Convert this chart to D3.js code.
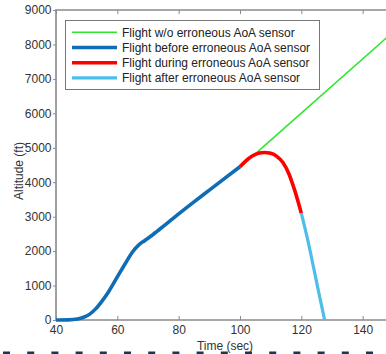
<!DOCTYPE html>
<html>
<head>
<meta charset="utf-8">
<script src="https://cdn.jsdelivr.net/npm/d3@7"></script>
<style>
  body { margin: 0; background: #fff; }
  svg { display: block; font-family: "Liberation Sans", Arial, sans-serif; }
</style>
</head>
<body>
<div id="container"></div>
<script>
/* DATA */
const beforeTime = [40, 44, 47, 49, 51, 53, 55, 57, 60, 63, 65, 67, 69, 71, 73, 76, 80, 85, 90, 95, 100];
const beforeAlt  = [0, 5, 30, 80, 170, 330, 550, 800, 1250, 1700, 1980, 2180, 2310, 2440, 2580, 2790, 3080, 3430, 3770, 4110, 4450];

const normalTime = [100, 150];
const normalAlt  = [4430, 8370];

const duringTime = [100, 102, 104, 106, 108, 110, 112, 114, 116, 117, 118, 119, 120];
const duringAlt  = [4450, 4630, 4760, 4840, 4865, 4840, 4750, 4570, 4230, 3990, 3720, 3420, 3100];

const afterTime = [120, 122, 124, 126, 127.6];
const afterAlt  = [3100, 2360, 1520, 660, 0];

const legendLabels = [
  "Flight w/o erroneous AoA sensor",
  "Flight before erroneous AoA sensor",
  "Flight during erroneous AoA sensor",
  "Flight after erroneous AoA sensor"
];

/* CONSTANTS */
const width = 386, height = 354;
const margin = {top: 10, left: 56, bottom: 34};
const axisColor = "#8a8a8a";

const svg = d3.select("#container").append("svg")
  .attr("width", width)
  .attr("height", height);

/* SCALES */
const xScale = d3.scaleLinear()
  .domain([40, 150])
  .range([margin.left, margin.left + 110 * 3.0667]);

const yScale = d3.scaleLinear()
  .domain([0, 9000])
  .range([height - margin.bottom, margin.top]);

/* AXES */
const xAxis = svg.append("g")
  .attr("transform", `translate(0,${yScale(0)})`)
  .call(d3.axisBottom(xScale).tickValues([40, 60, 80, 100, 120, 140]).tickSize(-4).tickPadding(5.5))
xAxis.select(".domain").remove();

const topAxis = svg.append("g")
  .attr("transform", `translate(0,${yScale(9000)})`)
  .call(d3.axisTop(xScale).tickValues([40, 60, 80, 100, 120, 140]).tickSize(-4).tickFormat(""))
topAxis.select(".domain").remove();

const yAxis = svg.append("g")
  .attr("transform", `translate(${xScale(40)},0)`)
  .call(d3.axisLeft(yScale).ticks(9).tickSize(3).tickPadding(1.5).tickFormat(d3.format("d")))
yAxis.select(".domain").remove();

svg.selectAll(".tick line").attr("stroke", axisColor);
svg.selectAll(".tick text")
  .attr("fill", "#333")
  .style("font-size", "12px")
  .style("font-family", "'Liberation Sans', Arial, sans-serif");

// axis box lines (left, bottom, top)
svg.append("path")
  .attr("d", `M${width + 10},${yScale(9000)}H${xScale(40)}V${yScale(0)}H${width + 10}`)
  .attr("fill", "none")
  .attr("stroke", axisColor)
  .attr("stroke-width", 1.6);

svg.append("text")
  .attr("x", 225)
  .attr("y", 350)
  .attr("text-anchor", "middle")
  .attr("fill", "#333")
  .style("font-size", "12px")
  .text("Time (sec)");

svg.append("text")
  .attr("transform", `translate(23,171) rotate(-90)`)
  .attr("text-anchor", "middle")
  .attr("fill", "#333")
  .style("font-size", "12px")
  .text("Altitude (ft)");

/* LINES */
const line = d3.line()
  .x(d => xScale(d[0]))
  .y(d => yScale(d[1]))
  .curve(d3.curveMonotoneX);

const series = [
  {t: normalTime, a: normalAlt, color: "#2ee62e", w: 1.6},
  {t: beforeTime, a: beforeAlt, color: "#0f6db5", w: 3.6},
  {t: duringTime, a: duringAlt, color: "#ff0000", w: 3.6},
  {t: afterTime,  a: afterAlt,  color: "#4dbde9", w: 3.2}
];

svg.selectAll("path.series")
  .data(series)
  .join("path")
  .attr("class", "series")
  .attr("d", s => line(d3.zip(s.t, s.a)))
  .attr("fill", "none")
  .attr("stroke", s => s.color)
  .attr("stroke-width", s => s.w)
  .attr("stroke-linecap", "butt");

/* LEGEND */
const legend = svg.append("g");
legend.append("rect")
  .attr("x", 65.5).attr("y", 20.5)
  .attr("width", 254).attr("height", 69)
  .attr("fill", "#fff")
  .attr("stroke", "#777")
  .attr("stroke-width", 1);

legendLabels.forEach((label, i) => {
  const y = 32.3 + i * 15.2;
  legend.append("line")
    .attr("x1", 72).attr("x2", 117)
    .attr("y1", y).attr("y2", y)
    .attr("stroke", series[i].color)
    .attr("stroke-width", series[i].w);
  legend.append("text")
    .attr("x", 122).attr("y", y + 4.3)
    .attr("fill", "#222")
    .style("font-size", "12px")
    .text(label);
});

/* DASHED RULE AT BOTTOM */
svg.append("g")
  .selectAll("rect")
  .data(d3.range(3, width, 24.2))
  .join("rect")
  .attr("x", d => d)
  .attr("y", 351.5)
  .attr("width", 7)
  .attr("height", 2.5)
  .attr("fill", "#1e3550");
</script>
</body>
</html>
